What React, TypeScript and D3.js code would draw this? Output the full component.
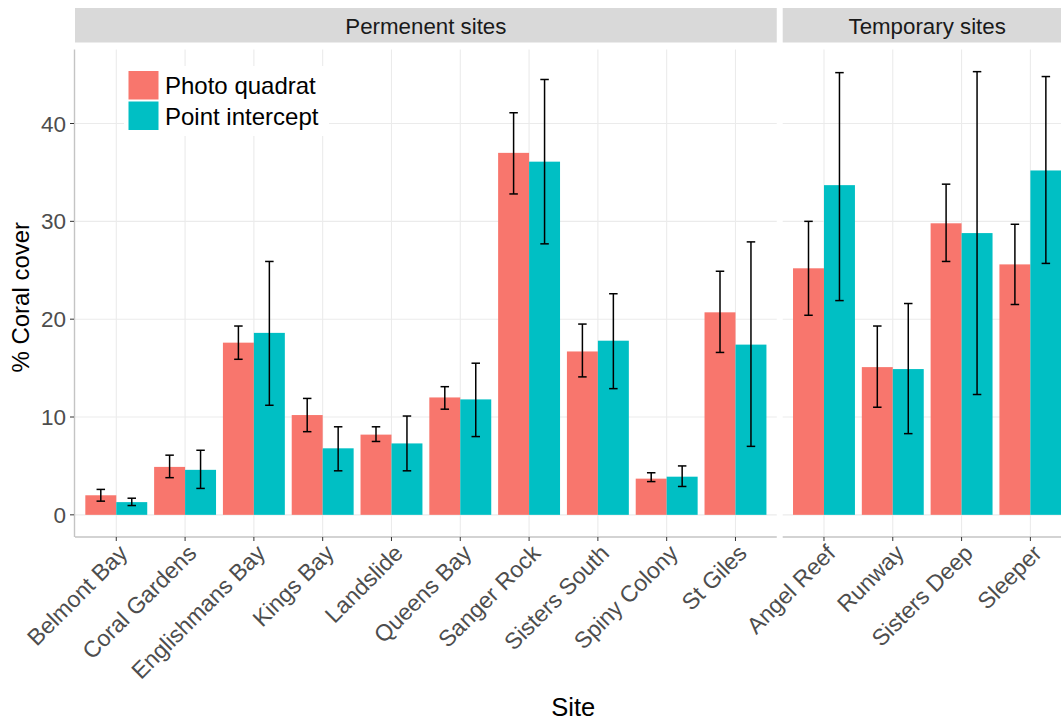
import React from "react";
import * as d3 from "d3";

// Sites, grouped by facet
const sites = [
  "Belmont Bay", "Coral Gardens", "Englishmans Bay", "Kings Bay", "Landslide",
  "Queens Bay", "Sanger Rock", "Sisters South", "Spiny Colony", "St Giles",
  "Angel Reef", "Runway", "Sisters Deep", "Sleeper",
];
const siteType = [
  "Permenent sites", "Permenent sites", "Permenent sites", "Permenent sites", "Permenent sites",
  "Permenent sites", "Permenent sites", "Permenent sites", "Permenent sites", "Permenent sites",
  "Temporary sites", "Temporary sites", "Temporary sites", "Temporary sites",
];
const facets = ["Permenent sites", "Temporary sites"];
const methods = ["Photo quadrat", "Point intercept"];

// % coral cover with error bar limits
const photoMean = [2.0, 4.9, 17.6, 10.2, 8.2, 12.0, 37.0, 16.7, 3.7, 20.7, 25.2, 15.1, 29.8, 25.6];
const photoLow = [1.4, 3.8, 15.9, 8.5, 7.5, 10.8, 32.8, 14.1, 3.4, 16.6, 20.4, 11.0, 25.9, 21.5];
const photoHigh = [2.6, 6.1, 19.3, 11.9, 9.0, 13.1, 41.1, 19.5, 4.3, 24.9, 30.0, 19.3, 33.8, 29.7];
const pointMean = [1.3, 4.6, 18.6, 6.8, 7.3, 11.8, 36.1, 17.8, 3.9, 17.4, 33.7, 14.9, 28.8, 35.2];
const pointLow = [0.95, 2.7, 11.2, 4.5, 4.5, 8.0, 27.7, 12.9, 2.9, 7.0, 21.9, 8.3, 12.3, 25.7];
const pointHigh = [1.7, 6.6, 25.9, 9.0, 10.1, 15.5, 44.5, 22.6, 5.0, 27.9, 45.2, 21.6, 45.3, 44.8];

const yTicks = [0, 10, 20, 30, 40];
const colors = ["#F8766D", "#00BFC4"];

const W = 1061;
const H = 721;
const FONT = "'Liberation Sans', Arial, Helvetica, sans-serif";

type Row = { site: string; method: string; mean: number; low: number; high: number };

const rows: Row[] = [];
sites.forEach((s, i) => {
  rows.push({ site: s, method: methods[0], mean: photoMean[i], low: photoLow[i], high: photoHigh[i] });
  rows.push({ site: s, method: methods[1], mean: pointMean[i], low: pointLow[i], high: pointHigh[i] });
});

export default function App() {
  const panelTop = 49.5;
  const panelBottom = 537;
  const step = 68.8;
  const panelLeft = [75, 782.7];

  const yMax = d3.max(rows, (r) => r.high) as number;
  const y = d3
    .scaleLinear()
    .domain([-0.05 * yMax, yMax * 1.05])
    .range([panelBottom, panelTop]);

  const panels = facets.map((f, pi) => {
    const cats = sites.filter((_, i) => siteType[i] === f);
    const x0 = panelLeft[pi];
    const x1 = x0 + step * (cats.length + 0.2);
    const x = d3
      .scaleBand<string>()
      .domain(cats)
      .range([x0, x1])
      .paddingInner(0.1)
      .paddingOuter(0.15);
    const xm = d3.scaleBand<string>().domain(methods).range([0, x.bandwidth()]);
    return { f, cats, x0, x1, x, xm, pi };
  });

  const capW = 8.5;

  return (
    <svg
      width={W}
      height={H}
      style={{ position: "absolute", left: 0, top: 0, background: "#fff", fontFamily: FONT }}
    >
      {panels.map((p) => {
        const center = (c: string) => (p.x(c) as number) + p.x.bandwidth() / 2;
        return (
          <g key={p.f}>
            {/* strip */}
            <rect x={p.x0} y={8} width={p.x1 - p.x0} height={34.5} fill="#D9D9D9" />
            <text
              x={(p.x0 + p.x1) / 2}
              y={25.5}
              dy="0.36em"
              textAnchor="middle"
              fontSize={22.3}
              fill="#1A1A1A"
            >
              {p.f}
            </text>

            {/* grid */}
            {yTicks.map((t) => (
              <line
                key={"gy" + t}
                x1={p.x0}
                x2={p.x1}
                y1={y(t)}
                y2={y(t)}
                stroke="#EBEBEB"
                strokeWidth={1.1}
              />
            ))}
            {p.cats.map((c) => (
              <line
                key={"gx" + c}
                x1={center(c)}
                x2={center(c)}
                y1={panelTop}
                y2={panelBottom}
                stroke="#EBEBEB"
                strokeWidth={1.1}
              />
            ))}

            {/* bars */}
            {rows
              .filter((r) => p.cats.includes(r.site))
              .map((r) => {
                const bx = (p.x(r.site) as number) + (p.xm(r.method) as number);
                const bw = p.xm.bandwidth();
                return (
                  <rect
                    key={"b" + r.site + r.method}
                    x={bx}
                    y={y(r.mean)}
                    width={bw}
                    height={y(0) - y(r.mean)}
                    fill={colors[methods.indexOf(r.method)]}
                  />
                );
              })}

            {/* error bars */}
            {rows
              .filter((r) => p.cats.includes(r.site))
              .map((r) => {
                const cx = (p.x(r.site) as number) + (p.xm(r.method) as number) + p.xm.bandwidth() / 2;
                return (
                  <g key={"e" + r.site + r.method} stroke="#000" strokeWidth={1.5}>
                    <line x1={cx} x2={cx} y1={y(r.high)} y2={y(r.low)} />
                    <line x1={cx - capW / 2} x2={cx + capW / 2} y1={y(r.high)} y2={y(r.high)} />
                    <line x1={cx - capW / 2} x2={cx + capW / 2} y1={y(r.low)} y2={y(r.low)} />
                  </g>
                );
              })}

            {/* x axis */}
            <line x1={p.x0} x2={p.x1} y1={panelBottom} y2={panelBottom} stroke="#C4C4C4" strokeWidth={1.4} />
            {p.cats.map((c) => (
              <g key={"xt" + c}>
                <line x1={center(c)} x2={center(c)} y1={panelBottom} y2={panelBottom + 4} stroke="#333" strokeWidth={1} />
                <text
                  transform={`translate(${center(c) + 1},${panelBottom + 6}) rotate(-45)`}
                  textAnchor="end"
                  dy="0.72em"
                  fontSize={23}
                  fill="#4D4D4D"
                >
                  {c}
                </text>
              </g>
            ))}

            {/* y axis on the first panel */}
            {p.pi === 0 && (
              <g>
                <line x1={p.x0 - 0.5} x2={p.x0 - 0.5} y1={panelTop} y2={panelBottom} stroke="#C4C4C4" strokeWidth={1.4} />
                {yTicks.map((t) => (
                  <g key={"yt" + t}>
                    <line x1={p.x0 - 5} x2={p.x0 - 1} y1={y(t)} y2={y(t)} stroke="#333" strokeWidth={1} />
                    <text x={p.x0 - 9} y={y(t)} dy="0.36em" textAnchor="end" fontSize={22.5} fill="#4D4D4D">
                      {t}
                    </text>
                  </g>
                ))}
              </g>
            )}
          </g>
        );
      })}

      {/* legend */}
      <g>
        <rect x={124} y={66} width={205} height={70} fill="#fff" />
        {methods.map((m, i) => (
          <g key={m}>
            <rect x={128.5} y={71 + i * 30.5} width={30} height={28.5} fill={colors[i]} />
            <text x={165} y={85.5 + i * 30.5} dy="0.36em" fontSize={24} fill="#000">
              {m}
            </text>
          </g>
        ))}
      </g>

      {/* axis titles */}
      <text
        transform={`translate(29,${(panelTop + panelBottom) / 2 + 4}) rotate(-90)`}
        textAnchor="middle"
        fontSize={24}
        fill="#000"
      >
        % Coral cover
      </text>
      <text x={(panelLeft[0] + panelLeft[1] + step * 4.2) / 2} y={716} textAnchor="middle" fontSize={25.5} fill="#000">
        Site
      </text>
    </svg>
  );
}
